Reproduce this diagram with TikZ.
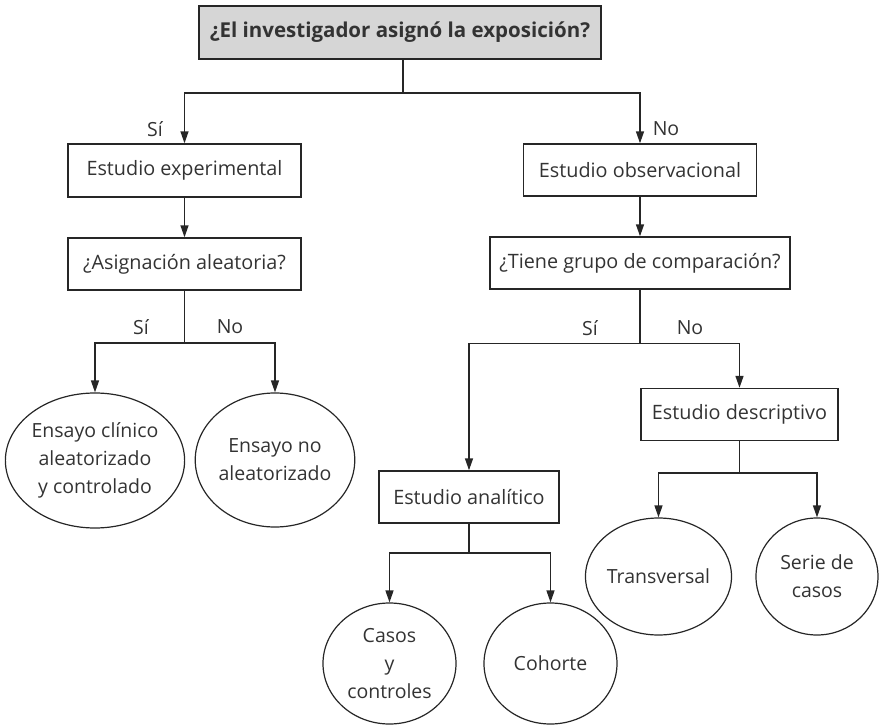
\documentclass[tikz,border=0pt]{standalone}
\usepackage{fontspec}
\setmainfont{Open Sans}
\usetikzlibrary{arrows.meta,shapes.geometric}
\definecolor{inkline}{HTML}{262626}
\definecolor{inktext}{HTML}{333333}
\definecolor{headfill}{HTML}{D6D6D6}
\begin{document}
\begin{tikzpicture}[x=1pt,y=-1pt,
  every node/.style={text=inktext, inner sep=0pt},
  stepbox/.style={draw=inkline, line width=1.4pt, rectangle, font=\fontsize{19.8}{22}\selectfont},
  headbox/.style={stepbox, fill=headfill, font=\bfseries\fontsize{20.5}{22}\selectfont},
  endoval/.style={draw=inkline, line width=1.2pt, ellipse, align=center, font=\fontsize{19.5}{28}\selectfont},
  branch/.style={font=\fontsize{19.5}{22}\selectfont},
  link/.style={draw=inkline, line width=1.4pt},
  arr/.style={link, -{Triangle[length=12pt,width=8pt]}}]
\useasboundingbox (0,0) rectangle (879,725);

% decision and study boxes
\node[headbox, minimum width=402pt, minimum height=53pt] (top) at (400,32.5) {¿El investigador asignó la exposición?};
\node[stepbox, minimum width=233pt, minimum height=53pt] (exp) at (184.5,170.5) {Estudio experimental};
\node[stepbox, minimum width=233pt, minimum height=52pt] (asig) at (184.5,264) {¿Asignación aleatoria?};
\node[stepbox, minimum width=233pt, minimum height=52pt] (obs) at (640,170) {Estudio observacional};
\node[stepbox, minimum width=300pt, minimum height=52pt] (tiene) at (640,263) {¿Tiene grupo de comparación?};
\node[stepbox, minimum width=197pt, minimum height=52pt] (desc) at (739.5,414.5) {Estudio descriptivo};
\node[stepbox, minimum width=180pt, minimum height=52pt] (anal) at (469,497) {Estudio analítico};

% study designs
\node[endoval, minimum width=170pt, minimum height=135pt] (ecac) at (95,460.5) {Ensayo clínico\\aleatorizado\\y controlado};
\node[endoval, minimum width=155pt, minimum height=134pt] (enoa) at (275,460) {Ensayo no\\aleatorizado};
\node[endoval, minimum width=133pt, minimum height=121pt] (casos) at (389.5,663.5) {Casos\\y\\controles};
\node[endoval, minimum width=133pt, minimum height=121pt] (coh) at (550.5,663.5) {Cohorte};
\node[endoval, minimum width=131pt, minimum height=117pt] (trans) at (658.5,576.5) {Transversal};
\node[endoval, minimum width=122pt, minimum height=117pt] (serie) at (817,576.5) {Serie de\\casos};

% branching points
\coordinate (j1) at (403,93);
\coordinate (j2) at (184.5,343);
\coordinate (j3) at (640,343.5);
\coordinate (j4) at (739.5,473);
\coordinate (j5) at (469,553);

% connectors
\draw[link] (top.south -| j1) -- (j1);
\draw[arr] (j1) -| (exp.north);
\draw[arr] (j1) -| (obs.north);
\draw[arr] (exp.south) -- (asig.north);
\draw[arr] (obs.south) -- (tiene.north);

\draw[link] (asig.south) -- (j2);
\draw[arr] (j2) -| (ecac.north);
\draw[arr] (j2) -| (enoa.north);

\draw[link] (tiene.south) -- (j3);
\draw[arr] (j3) -| (anal.north);
\draw[arr] (j3) -| (desc.north);

\draw[link] (desc.south) -- (j4);
\draw[arr] (j4) -| (trans.north);
\draw[arr] (j4) -| (serie.north);

\draw[link] (anal.south) -- (j5);
\draw[arr] (j5) -| (casos.north);
\draw[arr] (j5) -| (coh.north);

% branch labels
\node[branch] (l1) at (155,129) {Sí};
\node[branch] (l2) at (666,129) {No};
\node[branch] (l3) at (141,327) {Sí};
\node[branch] (l4) at (230,327) {No};
\node[branch] (l5) at (590,328) {Sí};
\node[branch] (l6) at (690,328) {No};
\end{tikzpicture}
\end{document}
